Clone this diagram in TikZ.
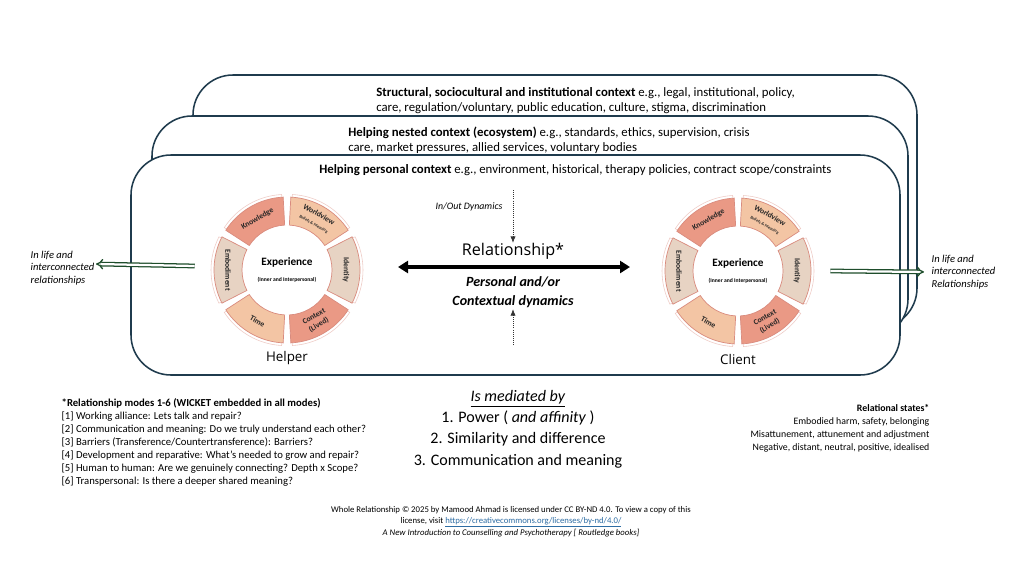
\documentclass[tikz,border=0pt]{standalone}
\usepackage{fontspec}
\setmainfont{Carlito}
\newfontfamily\headfont{Open Sans}
\usetikzlibrary{arrows.meta}
\definecolor{boxline}{HTML}{1F3B4D}
\definecolor{arrowgreen}{HTML}{1E4D2B}
\definecolor{segred}{HTML}{EA9985}
\definecolor{segpeach}{HTML}{F3C5A4}
\definecolor{segbeige}{HTML}{E7D3C3}
\definecolor{segrim}{HTML}{D98B7E}
\definecolor{linkblue}{HTML}{2E6DA4}
\newcommand{\ctxfont}{\fontsize{9.1}{10.7}\selectfont}
\newcommand{\listfont}{\fontsize{7.6}{9.2}\selectfont}
\newcommand{\subtxt}[1]{{\fontsize{3}{3.6}\selectfont #1}}
\newcommand{\wheel}[3]{%
 \node[ring] ({#1}) at (#2) {};%
 \begin{scope}[shift={(#2)}, y=0.25mm]%
  \foreach \a/\c/\t/\r in {120/segred/Knowledge/30, 60/segpeach/{Worldview\\\subtxt{Beliefs \& Meaning}}/-30, 0/segbeige/Identity/-90, -60/segred/{Context\\(Lived)}/30, -120/segpeach/Time/-30, 180/segbeige/Embodiment/-90}{%
   \draw[segrim!45, shift={(\a:3)}] (\a-27:45) arc[start angle=\a-27, end angle=\a+27, radius=45] -- (\a+27:73) arc[start angle=\a+27, end angle=\a-27, radius=73] -- cycle;%
   \filldraw[fill=\c, draw=segrim, line width=0.5pt] (\a-27:45) arc[start angle=\a-27, end angle=\a+27, radius=45] -- (\a+27:73) arc[start angle=\a+27, end angle=\a-27, radius=73] -- cycle;%
   \node[seglbl, rotate=\r] ({#1}-seg\a) at (\a:59) {\t};%
  }%
 \end{scope}%
 \node[align=center, inner sep=0] ({#1}-exp) at (#2) {{\bfseries\fontsize{8}{9}\selectfont Experience}\\{\bfseries\fontsize{4}{4.5}\selectfont (Inner and Interpersonal)}};%
 \node[headfont, yshift=1mm] ({#1}-name) at ({#1}.south) {#3};%
}

\begin{document}
\begin{tikzpicture}[x=0.25mm, y=-0.25mm, every node/.style={inner sep=1pt},
  ctxbox/.style={draw=boxline, line width=1.1pt, fill=white, rounded corners=10mm},
  ctxtext/.style={anchor=north west, align=left, font=\ctxfont, inner sep=0},
  ring/.style={circle, minimum size=46mm, inner sep=0},
  seglbl/.style={font=\bfseries\fontsize{5.5}{6.8}\selectfont, align=center, text=black!85, inner sep=0},
  headfont/.style={font=\headfont\fontsize{9.5}{11}\selectfont},
  lifetext/.style={anchor=west, align=left, font=\itshape\fontsize{7.5}{8.9}\selectfont},
  lifearrow/.style={draw=arrowgreen, double=white, double distance=1.6pt, line width=0.9pt, -{Implies}},
  relarrow/.style={line width=2.2pt, {Triangle[length=2.5mm,width=3mm]}-{Triangle[length=2.5mm,width=3mm]}},
  dynarrow/.style={densely dotted, line width=0.5pt, draw=black!80, -{Latex[length=1.6mm,width=1.3mm]}}]
 \path[fill=white, use as bounding box] (0,0) rectangle (1024,576);
 \draw[ctxbox] (193,75) rectangle (917,328);
 \draw[ctxbox] (152,116) rectangle (908,339);
 \draw[ctxbox] (131,155) rectangle (900,375);
 \node[ctxtext] (structural) at (376,87) {\textbf{Structural, sociocultural and institutional context} e.g., legal, institutional, policy,\\care, regulation/voluntary, public education, culture, stigma, discrimination};
 \node[ctxtext] (nested) at (348,127) {\textbf{Helping nested context (ecosystem)} e.g., standards, ethics, supervision, crisis\\care, market pressures, allied services, voluntary bodies};
 \node[ctxtext] (personal) at (319,164) {\textbf{Helping personal context} e.g., environment, historical, therapy policies, contract scope/constraints};
 \wheel{helper}{287,270}{Helper};
 \wheel{client}{738,271}{Client};
 \node[lifetext] (lifeleft) at (29,268) {In life and\\interconnected\\relationships};
 \node[lifetext] (liferight) at (930,272) {In life and\\interconnected\\Relationships};
 \draw[lifearrow] ([yshift=1mm]helper.west) -- ([yshift=1mm]lifeleft.east);
 \draw[lifearrow, shorten >=1.5mm] (client.east) -- (liferight.west);
 \node[font=\itshape\fontsize{7}{8}\selectfont] (inout) at (469,207) {In/Out Dynamics};
 \node[font=\headfont\fontsize{11.5}{14}\selectfont] (rel) at (513,251) {Relationship*};
 \coordinate (relleft) at (398,267);
 \coordinate (relright) at (630,267);
 \draw[relarrow] (relleft) -- (relright);
 \node[align=center, font=\bfseries\itshape\fontsize{10}{13.5}\selectfont] (pers) at (513,292) {Personal and/or\\Contextual dynamics};
 \coordinate (dyntop) at (513,190);
 \coordinate (dynbot) at (513,345);
 \draw[dynarrow, shorten >=-0.4mm] (dyntop) -- (rel.north);
 \draw[dynarrow] (dynbot) -- (pers.south);
 \node[anchor=north, align=center, font=\fontsize{11.4}{15}\selectfont] (mediated) at (518,389) {\underline{\textit{Is mediated by}}\\1. Power ( \textit{and affinity} )\\2. Similarity and difference\\3. Communication and meaning};
 \node[anchor=north west, align=left, font=\listfont] (modes) at (60,397) {\textbf{*Relationship modes 1-6 (WICKET embedded in all modes)}\\{}[1] Working alliance: Lets talk and repair?\\{}[2] Communication and meaning: Do we truly understand each other?\\{}[3] Barriers (Transference/Countertransference): Barriers?\\{}[4] Development and reparative: What's needed to grow and repair?\\{}[5] Human to human: Are we genuinely connecting? Depth x Scope?\\{}[6] Transpersonal: Is there a deeper shared meaning?};
 \node[anchor=north east, align=right, font=\fontsize{7}{9.2}\selectfont] (states) at (931,403) {\textbf{Relational states*}\\Embodied harm, safety, belonging\\Misattunement, attunement and adjustment\\Negative, distant, neutral, positive, idealised};
 \node[anchor=north, align=center, font=\fontsize{6.2}{7.5}\selectfont] (credits) at (511,505) {Whole Relationship © 2025 by Mamood Ahmad is licensed under CC BY-ND 4.0. To view a copy of this\\license, visit \textcolor{linkblue}{\underline{https://creativecommons.org/licenses/by-nd/4.0/}}\\\textit{A New Introduction to Counselling and Psychotherapy [ Routledge books]}};
\end{tikzpicture}
\end{document}
